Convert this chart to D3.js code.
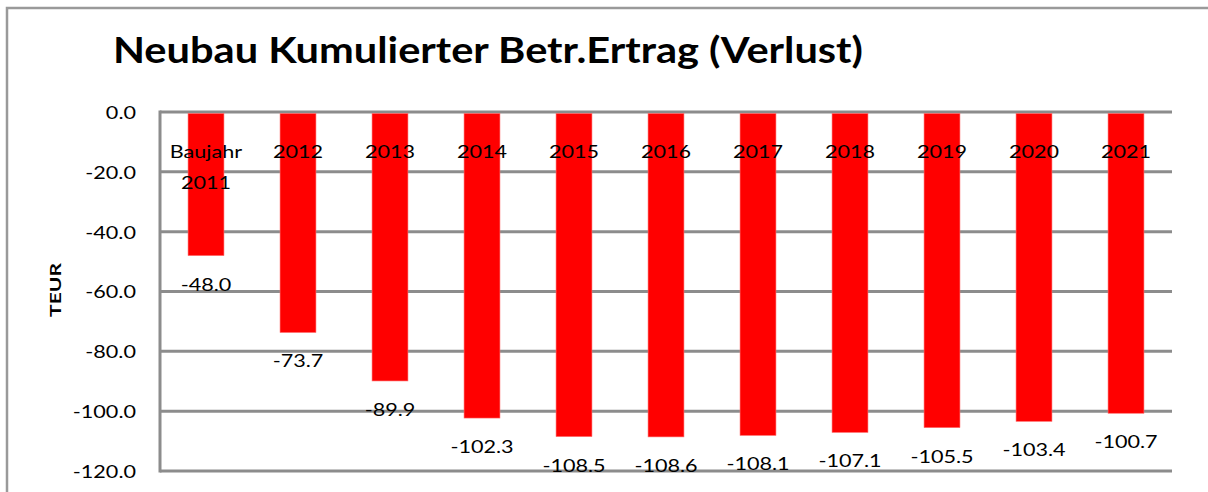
<!DOCTYPE html>
<html>
<head>
<meta charset="utf-8">
<script src="https://cdn.jsdelivr.net/npm/d3@7/dist/d3.min.js"></script>
<style>
  html, body { margin: 0; padding: 0; background: #fff; }
  svg { display: block; }
  text { font-family: Lato, "Open Sans", sans-serif; fill: #000; }
</style>
</head>
<body>
<script>
const categories = [["Baujahr", "2011"], ["2012"], ["2013"], ["2014"], ["2015"], ["2016"], ["2017"], ["2018"], ["2019"], ["2020"], ["2021"]];
const values = [-48.0, -73.7, -89.9, -102.3, -108.5, -108.6, -108.1, -107.1, -105.5, -103.4, -100.7];
const yTicks = [0, -20, -40, -60, -80, -100, -120];
const titleText = "Neubau Kumulierter Betr.Ertrag (Verlust)";
const yAxisLabel = "TEUR";

const W = 1208, H = 492;
const plot = { left: 160, right: 1172, top: 112, bottom: 471 };
const SX = 1.2; // horizontal stretch of the text
const fmt = d3.formatLocale({ decimal: ".", thousands: ",", grouping: [3], currency: ["", ""], minus: "-" }).format(".1f");

const svg = d3.select("body").append("svg").attr("width", W).attr("height", H);

// outer border (top + left visible)
svg.append("path")
  .attr("d", `M7,${H} L7,8 L${W},8`)
  .attr("fill", "none").attr("stroke", "#9a9a9a").attr("stroke-width", 2.5);

// title
svg.append("text")
  .attr("x", 113).attr("y", 63)
  .attr("font-size", 37).attr("font-weight", "bold")
  .attr("textLength", 750).attr("lengthAdjust", "spacingAndGlyphs")
  .text(titleText);

const keys = categories.map((c, i) => i);
const x = d3.scaleBand().domain(keys).range([plot.left, plot.right]).paddingInner(0.61).paddingOuter(0.305);
const y = d3.scaleLinear().domain([-120, 0]).range([plot.bottom, plot.top]);

// gridlines
const grid = svg.append("g");
grid.selectAll("line").data(yTicks).join("line")
  .attr("x1", plot.left).attr("x2", plot.right)
  .attr("y1", d => y(d)).attr("y2", d => y(d))
  .attr("stroke", "#8c8c8c").attr("stroke-width", 3);

// y axis
const yAxis = d3.axisLeft(y).tickValues(yTicks).tickFormat(fmt).tickSize(0).tickPadding(0);
const yg = svg.append("g").attr("transform", `translate(${plot.left},0)`).call(yAxis);
yg.select(".domain").remove();
yg.selectAll("text")
  .attr("font-family", "Lato, sans-serif")
  .attr("font-size", 18)
  .attr("fill", "#000")
  .attr("x", 0).attr("dy", "0.36em")
  .attr("transform", `translate(-24,0) scale(${SX},1)`);
svg.append("line")
  .attr("x1", plot.left).attr("x2", plot.left)
  .attr("y1", plot.top - 1.5).attr("y2", plot.bottom + 1.5)
  .attr("stroke", "#8c8c8c").attr("stroke-width", 3);

// bars
svg.append("g").selectAll("rect").data(values).join("rect")
  .attr("x", (d, i) => x(i))
  .attr("width", x.bandwidth())
  .attr("y", y(0) + 1.5)
  .attr("height", d => y(d) - y(0) - 1.5)
  .attr("fill", "#ff0000")
  .attr("stroke", "#ff6a6a").attr("stroke-width", 0.6);

// category labels (drawn over bars)
const cat = svg.append("g").selectAll("g").data(categories).join("g")
  .attr("transform", (d, i) => `translate(${x(i) + x.bandwidth() / 2},158) scale(${SX},1)`);
cat.selectAll("text").data(d => d).join("text")
  .attr("text-anchor", "middle")
  .attr("font-size", 18)
  .attr("y", (d, j) => j * 31)
  .text(d => d);

// data labels
svg.append("g").selectAll("text").data(values).join("text")
  .attr("text-anchor", "middle")
  .attr("font-size", 18)
  .attr("transform", (d, i) => `translate(${x(i) + x.bandwidth() / 2},${y(d) + 35}) scale(${SX},1)`)
  .text(d => fmt(d));

// y axis title
svg.append("text")
  .attr("transform", "translate(61,290) rotate(-90)")
  .attr("text-anchor", "middle")
  .attr("font-size", 15).attr("font-weight", "bold")
  .attr("textLength", 54).attr("lengthAdjust", "spacingAndGlyphs")
  .text(yAxisLabel);
</script>
</body>
</html>
